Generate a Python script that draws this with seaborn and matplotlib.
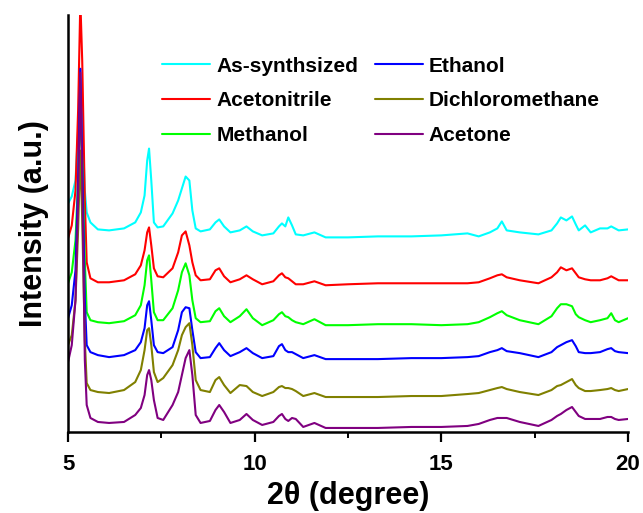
import pandas as pd
import matplotlib
matplotlib.use("Agg")
import matplotlib.pyplot as plt
from matplotlib.ticker import MultipleLocator
import seaborn as sns

# --- DATA (stacked curves, intensity in a.u.) ---
two_theta = [5.0, 5.1, 5.2, 5.27, 5.33, 5.38, 5.45, 5.5, 5.6, 5.8,
             6.1, 6.5, 6.8, 6.95, 7.05, 7.12, 7.17, 7.23, 7.3, 7.4,
             7.55, 7.8, 7.95, 8.05, 8.15, 8.25, 8.33, 8.42, 8.55, 8.8,
             8.95, 9.05, 9.18, 9.35, 9.6, 9.78, 9.95, 10.2, 10.5, 10.65,
             10.73, 10.82, 10.9, 11.0, 11.1, 11.3, 11.6, 11.9, 12.5, 13.3,
             14.2, 15.0, 15.7, 16.0, 16.3, 16.5, 16.62, 16.75, 17.1, 17.6,
             17.95, 18.1, 18.2, 18.35, 18.5, 18.6, 18.68, 18.85, 19.0, 19.25,
             19.45, 19.55, 19.65, 19.75, 20.0]

as_synthesized = [229, 236, 252, 302, 354, 312, 242, 220, 210, 203,
                  202, 204, 210, 220, 237, 272, 284, 252, 210, 205,
                  206, 219, 232, 244, 256, 252, 222, 204, 201, 203,
                  210, 213, 206, 200, 202, 206, 201, 197, 199, 206,
                  209, 206, 215, 207, 198, 197, 200, 195, 195, 196,
                  196, 197, 199, 196, 200, 204, 211, 202, 200, 198,
                  202, 209, 215, 212, 216, 208, 202, 207, 200, 204,
                  204, 206, 204, 202, 203]
acetonitrile = [194, 207, 242, 322, 432, 372, 232, 170, 154, 150,
                150, 152, 158, 167, 182, 200, 205, 187, 164, 156,
                155, 164, 180, 197, 201, 187, 170, 157, 152, 153,
                162, 164, 156, 150, 153, 157, 153, 148, 151, 157,
                159, 155, 154, 151, 148, 148, 151, 147, 148, 149,
                149, 149, 149, 150, 154, 157, 158, 155, 152, 149,
                155, 160, 165, 162, 164, 159, 155, 153, 152, 152,
                154, 156, 154, 152, 152]
methanol = [149, 160, 192, 252, 325, 272, 172, 120, 112, 110,
            109, 111, 117, 127, 147, 172, 177, 152, 120, 112,
            112, 124, 142, 160, 169, 157, 132, 114, 110, 111,
            121, 124, 116, 110, 116, 123, 114, 107, 112, 118,
            120, 116, 115, 112, 110, 108, 113, 107, 107, 108,
            108, 107, 108, 110, 115, 119, 121, 117, 112, 108,
            116, 124, 128, 128, 126, 118, 115, 112, 110, 112,
            114, 119, 112, 110, 114]
ethanol = [114, 127, 162, 252, 364, 272, 132, 87, 80, 77,
           75, 77, 82, 90, 104, 127, 131, 112, 87, 80,
           79, 85, 102, 120, 125, 124, 102, 80, 74, 75,
           84, 89, 82, 76, 80, 84, 79, 74, 76, 86,
           88, 82, 80, 80, 78, 74, 77, 73, 73, 73,
           74, 74, 75, 76, 80, 82, 84, 81, 79, 75,
           80, 85, 87, 90, 92, 86, 80, 79, 79, 80,
           83, 84, 81, 80, 79]
dichloromethane = [87, 97, 132, 202, 282, 212, 92, 49, 42, 40,
                   39, 42, 50, 62, 82, 102, 104, 87, 60, 50,
                   54, 67, 82, 97, 105, 109, 87, 52, 42, 40,
                   52, 55, 47, 39, 47, 46, 40, 36, 40, 45,
                   46, 44, 44, 43, 41, 36, 39, 35, 35, 35,
                   36, 36, 38, 39, 42, 44, 45, 43, 40, 37,
                   42, 46, 47, 50, 53, 47, 44, 41, 41, 42,
                   43, 44, 42, 41, 43]
acetone = [70, 87, 132, 232, 360, 252, 72, 27, 14, 10,
           9, 10, 17, 24, 37, 57, 62, 52, 32, 14,
           12, 27, 40, 57, 74, 82, 57, 17, 9, 11,
           22, 27, 20, 9, 12, 18, 12, 7, 10, 16,
           18, 13, 11, 14, 13, 5, 9, 4, 4, 4,
           5, 5, 6, 8, 12, 14, 14, 14, 10, 6,
           12, 16, 18, 22, 25, 20, 16, 13, 13, 13,
           15, 15, 13, 12, 13]

samples = ["As-synthsized", "Acetonitrile", "Methanol", "Ethanol", "Dichloromethane", "Acetone"]
colors = ["#00FFFF", "#FF0000", "#00FF00", "#0000FF", "#808000", "#800080"]
series = [as_synthesized, acetonitrile, methanol, ethanol, dichloromethane, acetone]

rows = []
for name, vals in zip(samples, series):
    for x, y in zip(two_theta, vals):
        rows.append({"two_theta": x, "intensity": y, "sample": name})
df = pd.DataFrame(rows)

# --- PLOT ---
sns.set_theme(style="white")
plt.rcParams["font.family"] = ["Liberation Sans", "DejaVu Sans"]
plt.rcParams["font.weight"] = "bold"
plt.rcParams["text.color"] = "black"
plt.rcParams["axes.labelcolor"] = "black"
plt.rcParams["xtick.color"] = "black"

fig = plt.figure(figsize=(6.43, 5.13), dpi=100)
ax = fig.add_axes([0.1058, 0.158, 0.8709, 0.813])

sns.lineplot(data=df, x="two_theta", y="intensity", hue="sample", hue_order=samples,
             palette=colors, estimator=None, sort=False, linewidth=1.5, ax=ax)

ax.set_xlim(5, 20)
ax.set_ylim(0, 418)
ax.set_yticks([])
ax.xaxis.set_major_locator(MultipleLocator(5))
ax.xaxis.set_minor_locator(MultipleLocator(2.5))
ax.tick_params(axis="x", which="major", direction="out", length=7, width=1.6,
               bottom=True, labelsize=16, pad=9, color="black", labelcolor="black")
ax.tick_params(axis="x", which="minor", direction="out", length=4, width=1.4,
               bottom=True, color="black")
for lab in ax.get_xticklabels():
    lab.set_fontweight("bold")

for side in ["top", "right"]:
    ax.spines[side].set_visible(False)
for side in ["left", "bottom"]:
    ax.spines[side].set_color("black")
    ax.spines[side].set_linewidth(1.8)

ax.set_xlabel("2θ (degree)", fontsize=22, fontweight="bold", labelpad=4, color="black")
ax.set_ylabel("Intensity (a.u.)", fontsize=22, fontweight="bold", labelpad=14, color="black")

handles, labels = ax.get_legend_handles_labels()
leg = ax.legend(handles, labels, ncol=2, loc="upper left", bbox_to_anchor=(0.168, 0.90),
                frameon=False, handlelength=2.3, handletextpad=0.3,
                columnspacing=0.8, labelspacing=0.75, borderpad=0, borderaxespad=0,
                prop={"weight": "bold", "size": 15})
for t in leg.get_texts():
    t.set_color("black")

fig.savefig("out.png", dpi=100)
